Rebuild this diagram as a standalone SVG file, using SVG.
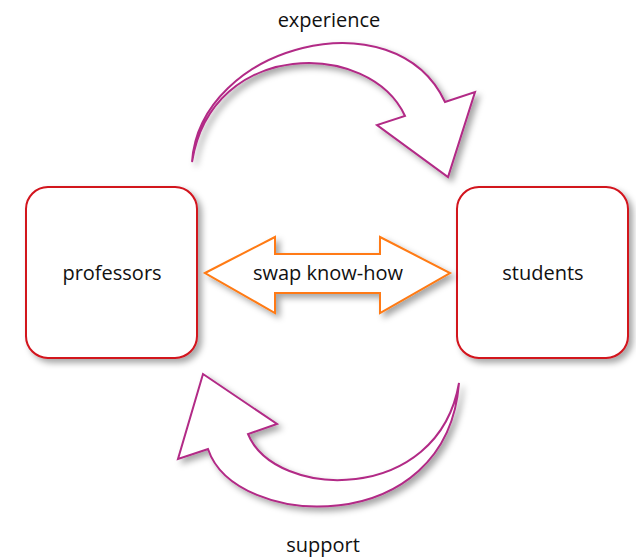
<svg xmlns="http://www.w3.org/2000/svg" width="636" height="557" viewBox="0 0 636 557">
<defs>
<filter id="sh" x="-20%" y="-20%" width="140%" height="140%">
<feDropShadow dx="4" dy="4" stdDeviation="3" flood-color="#000" flood-opacity="0.35"/>
</filter>
<style>
.box{fill:#fff;stroke:#d2121e;stroke-width:2;filter:url(#sh)}
.arc{fill:#fff;stroke:#b22a86;stroke-width:2;stroke-linejoin:miter;filter:url(#sh)}
.dbl{fill:#fff;stroke:#ff7a12;stroke-width:2;filter:url(#sh)}
text{font-family:"Open Sans","Noto Sans","Liberation Sans",sans-serif;font-size:20px;fill:#111;text-anchor:middle}
</style>
</defs>
<rect width="636" height="557" fill="#fff"/>
<g id="professors">
<rect class="box" x="26" y="187" width="171" height="171" rx="22"/>
<text x="112" y="280">professors</text>
</g>
<g id="students">
<rect class="box" x="457" y="187" width="171" height="171" rx="22"/>
<text x="543" y="280">students</text>
</g>
<g id="connectors">
<g id="experience">
<path class="arc" d="M192,162 C200,45 395,-5 445,102 L475,92 L448,177 L377,125 L405,116 C370,40 212,38 192,162 Z"/>
<text x="329" y="27">experience</text>
</g>
<g id="support">
<path class="arc" d="M459,383 C447,540 235,530 208,449 L178,459 L203,374 L277,424 L248,434 C275,500 438,505 459,383 Z"/>
<text x="323" y="552">support</text>
</g>
<g id="swap">
<path class="dbl" d="M205,273 L275,237 L275,254 L380,254 L380,237 L450,273 L380,313 L380,293 L275,293 L275,313 Z"/>
<text x="328" y="280">swap know-how</text>
</g>
</g>
</svg>
